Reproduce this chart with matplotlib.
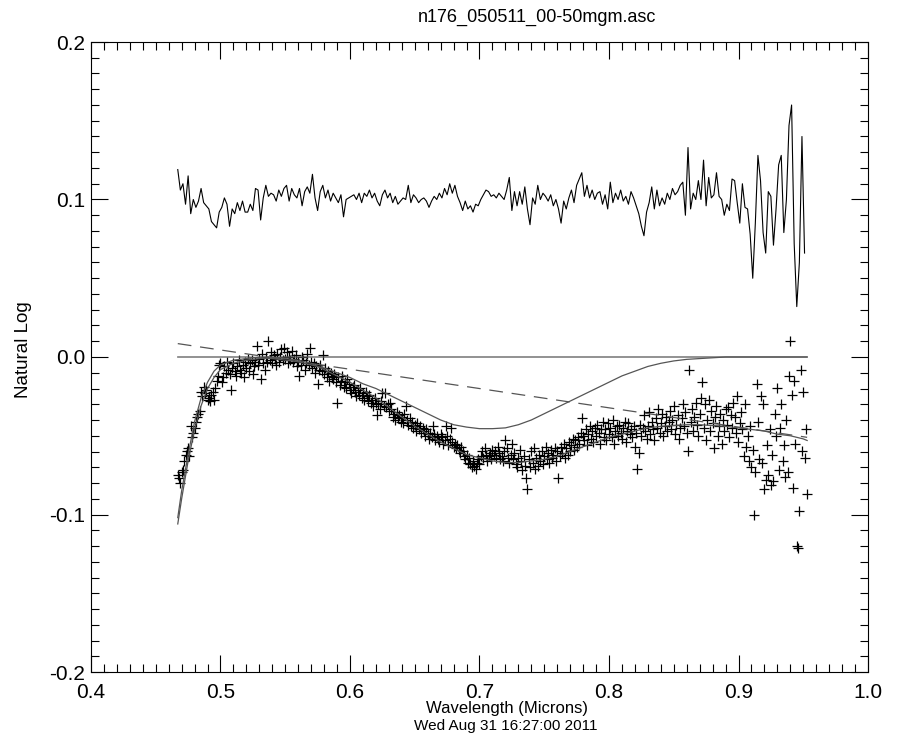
import numpy as np
import matplotlib
matplotlib.use("Agg")
import matplotlib.pyplot as plt
from matplotlib.ticker import MultipleLocator, FormatStrFormatter

# ---- datos ----
TITULO = "n176_050511_00-50mgm.asc"
XLABEL = "Wavelength (Microns)"
FECHA = "Wed Aug 31 16:27:00 2011"
YLABEL = "Natural Log"

# espectro residual (+0.1), muestreo cada 0.002 um desde 0.467
res_x0, res_dx = 0.467, 0.002
residual = [
    0.119, 0.106, 0.110, 0.097, 0.115, 0.091, 0.100, 0.095, 0.099, 0.107,
    0.098, 0.096, 0.094, 0.086, 0.084, 0.082, 0.092, 0.095, 0.101, 0.097,
    0.083, 0.094, 0.091, 0.098, 0.093, 0.099, 0.092, 0.092, 0.097, 0.093,
    0.107, 0.106, 0.087, 0.101, 0.109, 0.102, 0.104, 0.103, 0.099, 0.106,
    0.102, 0.107, 0.109, 0.099, 0.107, 0.103, 0.101, 0.107, 0.096, 0.105,
    0.108, 0.104, 0.116, 0.101, 0.093, 0.105, 0.109, 0.101, 0.106, 0.099,
    0.104, 0.101, 0.098, 0.103, 0.089, 0.100, 0.101, 0.102, 0.103, 0.100,
    0.104, 0.098, 0.104, 0.102, 0.106, 0.101, 0.104, 0.099, 0.096, 0.103,
    0.106, 0.101, 0.104, 0.098, 0.102, 0.097, 0.099, 0.101, 0.100, 0.109,
    0.098, 0.103, 0.101, 0.098, 0.100, 0.101, 0.099, 0.095, 0.099, 0.102,
    0.100, 0.104, 0.101, 0.107, 0.103, 0.110, 0.104, 0.109, 0.102, 0.098,
    0.093, 0.099, 0.094, 0.096, 0.092, 0.097, 0.096, 0.100, 0.103, 0.106,
    0.105, 0.102, 0.103, 0.101, 0.104, 0.102, 0.100, 0.106, 0.114, 0.093,
    0.105, 0.096, 0.105, 0.097, 0.108, 0.094, 0.084, 0.101, 0.097, 0.109,
    0.100, 0.104, 0.102, 0.099, 0.103, 0.096, 0.100, 0.094, 0.085, 0.099,
    0.094, 0.101, 0.106, 0.098, 0.109, 0.113, 0.117, 0.102, 0.109, 0.101,
    0.106, 0.100, 0.104, 0.105, 0.097, 0.103, 0.094, 0.111, 0.098, 0.104,
    0.100, 0.106, 0.099, 0.102, 0.097, 0.105, 0.101, 0.096, 0.091, 0.083,
    0.077, 0.092, 0.098, 0.108, 0.094, 0.106, 0.096, 0.101, 0.097, 0.104,
    0.100, 0.107, 0.103, 0.105, 0.109, 0.111, 0.090, 0.133, 0.094, 0.104,
    0.100, 0.112, 0.100, 0.125, 0.096, 0.114, 0.101, 0.103, 0.117, 0.102,
    0.100, 0.090, 0.097, 0.093, 0.113, 0.112, 0.098, 0.085, 0.110, 0.095,
    0.094, 0.078, 0.050, 0.085, 0.128, 0.112, 0.079, 0.066, 0.105, 0.102,
    0.071, 0.094, 0.122, 0.128, 0.079, 0.100, 0.147, 0.160, 0.072, 0.032,
    0.060, 0.140, 0.066,
]

# datos (cruces), cada 0.001 um desde 0.467, en milesimas
dat_x0, dat_dx = 0.467, 0.001
datos_mil = [
    -75, -77, -80, -73, -72, -66, -62, -60, -58, -63,
    -44, -51, -48, -45, -41, -38, -36, -34, -22, -25,
    -19, -23, -21, -27, -26, -28, -24, -22, -27, -20,
    -15, -12, -5, -4, -16, -13, -6, -10, -3, -8,
    -11, -21, -7, -4, -9, -12, -6, -2, -8, -10,
    -5, -13, -3, -7, -1, -9, -4, -2, -11, -6,
    -3, 7, -5, -1, -14, 2, -4, -8, 0, -3,
    10, -2, 3, -4, 1, -1, -5, 2, -3, 0,
    5, -2, 6, -1, 3, -4, 0, -2, 4, -3,
    -1, 1, -6, -3, -12, -5, 0, -2, -8, -4,
    2, -5, 6, -3, -7, -4, -10, -6, -17, -8,
    -5, -9, 1, -11, -7, -13, -9, -15, -10, -12,
    -14, -11, -16, -29, -13, -18, -15, -12, -19, -16,
    -20, -14, -17, -21, -23, -19, -18, -22, -25, -21,
    -24, -20, -26, -23, -27, -22, -25, -28, -24, -29,
    -27, -31, -26, -29, -37, -30, -33, -28, -23, -31,
    -23, -32, -30, -34, -29, -33, -38, -36, -40, -35,
    -39, -37, -41, -38, -42, -36, -31, -40, -43, -39,
    -44, -41, -45, -43, -47, -42, -46, -44, -48, -45,
    -47, -50, -46, -49, -52, -48, -51, -44, -49, -53,
    -50, -52, -54, -49, -51, -55, -53, -44, -50, -56,
    -52, -45, -54, -57, -55, -58, -56, -59, -61, -57,
    -60, -63, -65, -62, -67, -64, -68, -70, -66, -69,
    -71, -67, -65, -68, -63, -60, -64, -58, -62, -66,
    -63, -61, -65, -59, -62, -60, -64, -57, -61, -65,
    -63, -66, -60, -53, -58, -64, -67, -62, -55, -65,
    -61, -68, -70, -64, -59, -66, -72, -63, -69, -77,
    -84, -65, -70, -60, -67, -58, -71, -64, -69, -62,
    -66, -60, -68, -63, -57, -65, -61, -67, -59, -64,
    -62, -58, -66, -60, -77, -63, -57, -61, -55, -64,
    -58, -62, -54, -60, -56, -52, -59, -53, -57, -51,
    -55, -48, -39, -50, -53, -46, -56, -49, -44, -52,
    -47, -54, -45, -50, -43, -48, -55, -46, -41, -51,
    -46, -53, -42, -49, -45, -51, -40, -55, -47, -44,
    -50, -43, -48, -52, -45, -41, -54, -47, -42, -49,
    -46, -51, -44, -57, -48, -71, -61, -43, -50, -45,
    -37, -47, -52, -44, -35, -49, -41, -46, -53, -39,
    -45, -33, -48, -42, -36, -50, -44, -38, -47, -41,
    -34, -46, -40, -31, -49, -43, -37, -52, -45, -39,
    -30, -44, -35, -48, -60, -8, -41, -33, -47, -38,
    -29, -43, -50, -36, -26, -16, -45, -30, -53, -40,
    -27, -47, -34, -42, -58, -38, -31, -50, -44, -36,
    -55, -40, -47, -33, -43, -32, -51, -37, -45, -29,
    -38, -48, -25, -54, -42, -35, -46, -63, -30, -57,
    -50, -66, -44, -70, -59, -100, -73, -17, -41, -65,
    -25, -67, -30, -84, -78, -56, -75, -46, -81, -62,
    -79, -36, -50, -20, -72, -45, -30, -66, -56, -76,
    -40, -73, -12, 10, -24, -83, -15, -55, -120, -121,
    -98, -8, -60, -22, -64, -46, -87,
]

# curva de ajuste total
ajuste_x = [0.467, 0.470, 0.475, 0.480, 0.485, 0.490, 0.495, 0.500, 0.510, 0.520,
            0.530, 0.540, 0.550, 0.560, 0.570, 0.580, 0.590, 0.600, 0.610, 0.620,
            0.630, 0.640, 0.650, 0.660, 0.670, 0.680, 0.690, 0.700, 0.710, 0.720,
            0.730, 0.740, 0.750, 0.760, 0.770, 0.780, 0.790, 0.800, 0.810, 0.820,
            0.830, 0.840, 0.850, 0.860, 0.870, 0.880, 0.890, 0.900, 0.910, 0.920,
            0.930, 0.940, 0.950, 0.953]
ajuste_y = [-0.102, -0.085, -0.062, -0.041, -0.026, -0.016, -0.009, -0.005, -0.002, -0.001,
            0.000, 0.000, -0.001, -0.002, -0.004, -0.008, -0.012, -0.016, -0.021, -0.026,
            -0.032, -0.038, -0.044, -0.049, -0.054, -0.058, -0.062, -0.064, -0.066, -0.067,
            -0.067, -0.066, -0.065, -0.063, -0.060, -0.057, -0.054, -0.051, -0.049, -0.047,
            -0.045, -0.044, -0.0435, -0.043, -0.043, -0.0435, -0.044, -0.045, -0.046, -0.047,
            -0.049, -0.050, -0.052, -0.053]

# banda UV (borde del grafico)
uv_x = [0.467, 0.470, 0.475, 0.480, 0.485, 0.490, 0.495, 0.500, 0.510, 0.520,
        0.530, 0.540, 0.550, 0.953]
uv_y = [-0.106, -0.090, -0.066, -0.046, -0.031, -0.020, -0.013, -0.008, -0.004, -0.002,
        -0.001, -0.0005, 0.0, 0.0]

# banda de 0.7 um
banda_x = [0.467, 0.520, 0.540, 0.560, 0.570, 0.580, 0.590, 0.600, 0.610, 0.620,
           0.630, 0.640, 0.650, 0.660, 0.670, 0.680, 0.690, 0.700, 0.710, 0.720,
           0.730, 0.740, 0.750, 0.760, 0.770, 0.780, 0.790, 0.800, 0.810, 0.820,
           0.830, 0.840, 0.850, 0.860, 0.870, 0.880, 0.890, 0.953]
banda_y = [0.0, 0.0, -0.001, -0.003, -0.005, -0.007, -0.010, -0.013, -0.017, -0.020,
           -0.024, -0.028, -0.032, -0.036, -0.040, -0.043, -0.0445, -0.0455, -0.0455, -0.045,
           -0.043, -0.040, -0.036, -0.032, -0.028, -0.024, -0.020, -0.016, -0.012, -0.009,
           -0.006, -0.004, -0.0025, -0.0015, -0.001, -0.0005, 0.0, 0.0]

# continuo (discontinua)
cont_x = [0.467, 0.953]
cont_y = [0.0085, -0.051]

# ---- figura ----
plt.rcParams['font.family'] = ['Liberation Sans', 'DejaVu Sans']
plt.rcParams['font.size'] = 15

fig = plt.figure(figsize=(8.98, 7.47), dpi=100)
ax = fig.add_axes([91 / 898, 75 / 747, 777 / 898, 630 / 747])

GRIS = '#555555'

res_xs = res_x0 + res_dx * np.arange(len(residual))
dat_xs = dat_x0 + dat_dx * np.arange(len(datos_mil))
datos = np.array(datos_mil) / 1000.0

ax.plot(res_xs, residual, color='black', lw=0.8)
ax.plot(dat_xs, datos, '+', color='black', ms=7, mew=0.9, linestyle='none')
ax.plot(uv_x, uv_y, color=GRIS, lw=0.9)
ax.plot(banda_x, banda_y, color=GRIS, lw=0.9)
ax.plot(ajuste_x, ajuste_y, color=GRIS, lw=0.9)
ax.plot(cont_x, cont_y, color=GRIS, lw=0.9, dashes=(11, 7))

ax.set_xlim(0.4, 1.0)
ax.set_ylim(-0.2, 0.2)
ax.xaxis.set_major_locator(MultipleLocator(0.1))
ax.xaxis.set_minor_locator(MultipleLocator(0.01))
ax.yaxis.set_major_locator(MultipleLocator(0.1))
ax.yaxis.set_minor_locator(MultipleLocator(0.01))
ax.xaxis.set_major_formatter(FormatStrFormatter('%.1f'))
ax.yaxis.set_major_formatter(FormatStrFormatter('%.1f'))
ax.tick_params(which='both', direction='in', top=True, right=True, width=0.8)
ax.tick_params(which='major', length=12, labelsize=15)
ax.tick_params(which='minor', length=6)
ax.tick_params(axis='x', which='major', pad=8)
ax.tick_params(axis='y', which='major', pad=4)
for sp in ax.spines.values():
    sp.set_linewidth(0.8)

# etiquetas en posiciones de pixel
fig.text(537 / 898, 1 - 17 / 747, TITULO, ha='center', va='center', fontsize=13)
fig.text(507 / 898, 1 - 709 / 747, XLABEL, ha='center', va='center', fontsize=12)
fig.text(506 / 898, 1 - 726 / 747, FECHA, ha='center', va='center', fontsize=11)
fig.text(24 / 898, 1 - 350 / 747, YLABEL, ha='center', va='center', rotation=90, fontsize=13.5)

fig.savefig('out.png', dpi=100)
